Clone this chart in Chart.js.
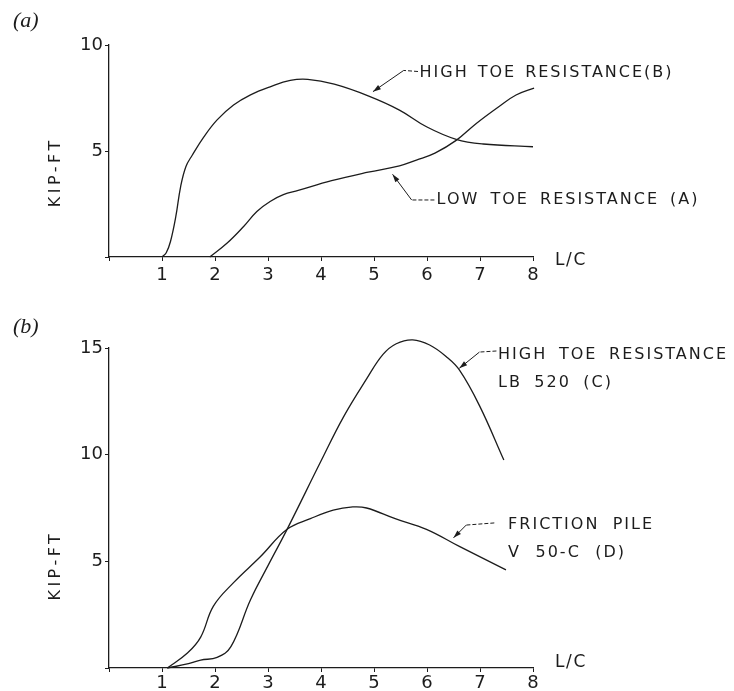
<!DOCTYPE html>
<html>
<head>
<meta charset="utf-8">
<script src="https://cdn.jsdelivr.net/npm/chart.js@4.4.1/dist/chart.umd.min.js"></script>
<style>
  body { margin: 0; background: #fff; }
  .panel { position: absolute; left: 0; width: 734px; }
  #panel-a { top: 0; height: 300px; }
  #panel-b { top: 300px; height: 391px; }
</style>
</head>
<body>
<div class="panel" id="panel-a"><canvas id="chart-a" width="734" height="300"></canvas></div>
<div class="panel" id="panel-b"><canvas id="chart-b" width="734" height="391"></canvas></div>
<script>
// values (L/C vs KIP-FT)
const xTicks = [0, 1, 2, 3, 4, 5, 6, 7, 8];

// (a)
const highToeBX = [1, 1.08, 1.16, 1.26, 1.35, 1.45, 1.57, 1.79, 2.04, 2.35, 2.67, 3.04, 3.42, 3.75, 4.25, 4.89, 5.48, 6.0, 6.55, 7.06, 8.0];
const highToeBY = [0, 0.2, 0.73, 1.9, 3.3, 4.26, 4.8, 5.67, 6.47, 7.17, 7.65, 8.03, 8.33, 8.38, 8.15, 7.6, 6.93, 6.13, 5.55, 5.33, 5.2];
const lowToeAX = [1.9, 2.23, 2.54, 2.79, 3.04, 3.29, 3.57, 4.2, 4.89, 5.48, 5.8, 6.15, 6.55, 6.93, 7.36, 7.68, 8.02];
const lowToeAY = [0, 0.66, 1.44, 2.15, 2.62, 2.94, 3.14, 3.6, 4.0, 4.3, 4.57, 4.9, 5.5, 6.3, 7.1, 7.64, 7.97];

// (b)
const lb520CX = [1.1, 1.5, 1.73, 2.04, 2.3, 2.67, 3.0, 3.36, 4.0, 4.42, 4.86, 5.17, 5.42, 5.73, 6.05, 6.36, 6.61, 6.99, 7.45];
const lb520CY = [0, 0.2, 0.37, 0.5, 1.0, 3.2, 4.8, 6.5, 9.7, 11.75, 13.55, 14.7, 15.2, 15.38, 15.14, 14.6, 13.97, 12.3, 9.75];
const v50DX = [1.1, 1.48, 1.73, 1.97, 2.35, 2.85, 3.36, 3.8, 4.23, 4.6, 4.86, 5.4, 5.99, 6.61, 7.49];
const v50DY = [0, 0.7, 1.45, 2.9, 4.0, 5.2, 6.5, 7.0, 7.4, 7.55, 7.5, 7.0, 6.5, 5.7, 4.6];

const INK = "#1c1c1c";
const FONT = '"DejaVu Sans", sans-serif';

function toPoints(xs, ys) {
  return xs.map((x, i) => ({ x: x, y: ys[i] }));
}

function curve(xs, ys) {
  return {
    data: toPoints(xs, ys),
    showLine: true,
    borderColor: INK,
    borderWidth: 1.3,
    pointRadius: 0,
    tension: 0.4,
    clip: false,
  };
}

// fit a line of lettering to the width it has in the figure, mostly by word gaps
function spacedText(ctx, str, x, y, width, ls) {
  ctx.letterSpacing = ls + "px";
  ctx.wordSpacing = "0px";
  const w = ctx.measureText(str).width;
  const gaps = str.split(" ").length - 1;
  if (gaps > 0) ctx.wordSpacing = Math.max(0, (width - w) / gaps) + "px";
  else ctx.letterSpacing = ls + Math.max(0, (width - w) / str.length) + "px";
  ctx.fillText(str, x, y);
  ctx.letterSpacing = "0px";
  ctx.wordSpacing = "0px";
}

const annotate = {
  id: "annotate",
  afterDraw(chart, args, opts) {
    const { ctx, chartArea } = chart;
    const xs = chart.scales.x;
    const ys = chart.scales.y;
    const px = (p) => [xs.getPixelForValue(p[0]), ys.getPixelForValue(p[1])];

    ctx.save();
    ctx.fillStyle = INK;
    ctx.strokeStyle = INK;
    ctx.textBaseline = "middle";
    ctx.textAlign = "left";

    ctx.font = 'italic 22px "Liberation Serif", serif';
    ctx.fillText(opts.tag, 13, opts.tagY);

    // axis titles
    ctx.font = "16px " + FONT;
    ctx.save();
    ctx.translate(56, ys.getPixelForValue(opts.titleY));
    ctx.rotate(-Math.PI / 2);
    ctx.textAlign = "center";
    spacedText(ctx, "KIP-FT", 0, 0, 70, 0);
    ctx.restore();

    ctx.font = "17px " + FONT;
    spacedText(ctx, "L/C", chartArea.right + 22, chartArea.bottom + opts.lcDy, 32, 0);

    // callouts
    ctx.font = "16px " + FONT;
    for (const c of opts.callouts) {
      const [tx, ty] = px(c.at);
      c.lines.forEach((line, i) => spacedText(ctx, line, tx, ty + i * 28, c.widths[i], 2));

      const pts = c.leader.map(px);
      ctx.lineWidth = 1;
      ctx.setLineDash([4, 2]);
      ctx.beginPath();
      ctx.moveTo(pts[0][0], pts[0][1]);
      ctx.lineTo(pts[1][0], pts[1][1]);
      ctx.stroke();
      ctx.setLineDash([]);
      ctx.beginPath();
      ctx.moveTo(pts[1][0], pts[1][1]);
      ctx.lineTo(pts[2][0], pts[2][1]);
      ctx.stroke();

      const [qx, qy] = pts[1];
      const [ax, ay] = pts[2];
      const ang = Math.atan2(ay - qy, ax - qx);
      ctx.beginPath();
      ctx.moveTo(ax, ay);
      ctx.lineTo(ax - 8 * Math.cos(ang) + 2.5 * Math.sin(ang), ay - 8 * Math.sin(ang) - 2.5 * Math.cos(ang));
      ctx.lineTo(ax - 8 * Math.cos(ang) - 2.5 * Math.sin(ang), ay - 8 * Math.sin(ang) + 2.5 * Math.cos(ang));
      ctx.closePath();
      ctx.fill();
    }
    ctx.restore();
  },
};

function makeChart(id, datasets, yMax, xHeight, padTop, labelPad, ann) {
  return new Chart(document.getElementById(id), {
    type: "scatter",
    data: { datasets: datasets },
    plugins: [annotate],
    options: {
      responsive: false,
      animation: false,
      devicePixelRatio: 1,
      layout: { padding: { top: padTop, right: 201, bottom: 0, left: 0 } },
      plugins: { legend: { display: false }, tooltip: { enabled: false }, annotate: ann },
      scales: {
        x: {
          type: "linear",
          min: xTicks[0],
          max: xTicks[xTicks.length - 1],
          afterBuildTicks: (s) => { s.ticks = xTicks.map((v) => ({ value: v })); },
          afterFit: (s) => { s.height = xHeight; },
          ticks: {
            callback: (v) => (v === 0 ? "" : v),
            color: INK,
            font: { family: FONT, size: 18 },
            padding: labelPad,
            maxRotation: 0,
          },
          grid: { drawOnChartArea: false, drawTicks: true, tickLength: 4, color: INK, lineWidth: 1 },
          border: { color: INK, width: 1.3 },
        },
        y: {
          min: 0,
          max: yMax,
          afterFit: (s) => { s.width = 109; },
          ticks: {
            stepSize: 5,
            callback: (v) => (v === 0 ? "" : v),
            color: INK,
            font: { family: FONT, size: 18 },
            padding: 2,
          },
          grid: { drawOnChartArea: false, drawTicks: true, tickLength: 4, color: INK, lineWidth: 1 },
          border: { color: INK, width: 1.3 },
        },
      },
    },
  });
}

makeChart("chart-a", [curve(highToeBX, highToeBY), curve(lowToeAX, lowToeAY)], 10, 43, 45, 4, {
  tag: "(a)",
  tagY: 21,
  titleY: 4,
  lcDy: 4,
  callouts: [
    { lines: ["HIGH TOE RESISTANCE(B)"], widths: [254], at: [5.86, 8.68], leader: [[5.83, 8.75], [5.56, 8.8], [4.98, 7.8]] },
    { lines: ["LOW TOE RESISTANCE (A)"], widths: [263], at: [6.18, 2.69], leader: [[6.14, 2.69], [5.71, 2.69], [5.35, 3.9]] },
  ],
});

makeChart("chart-b", [curve(lb520CX, lb520CY), curve(v50DX, v50DY)], 15, 23, 48, 1, {
  tag: "(b)",
  tagY: 27,
  titleY: 4.8,
  lcDy: -5,
  callouts: [
    { lines: ["HIGH TOE RESISTANCE", "LB 520 (C)"], widths: [230, 115], at: [7.34, 14.67], leader: [[7.31, 14.86], [6.99, 14.81], [6.61, 14.05]] },
    { lines: ["FRICTION PILE", "V 50-C (D)"], widths: [146, 118], at: [7.53, 6.7], leader: [[7.27, 6.8], [6.74, 6.7], [6.5, 6.1]] },
  ],
});
</script>
</body>
</html>
